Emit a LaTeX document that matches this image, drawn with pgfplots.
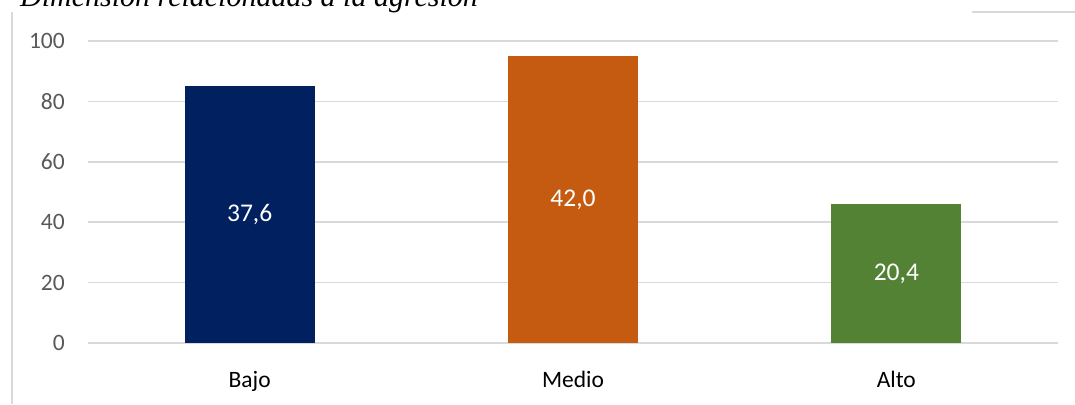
\documentclass[border=0pt]{standalone}
\usepackage{pgfplots}
\pgfplotsset{compat=1.18}
\usepackage{fontspec}
\setmainfont{Carlito}
\newfontfamily\titlefont{Liberation Serif}
\definecolor{cBajo}{HTML}{002060}
\definecolor{cMedio}{HTML}{C55A11}
\definecolor{cAlto}{HTML}{548235}
\definecolor{gridc}{HTML}{D9D9D9}
\definecolor{tickc}{HTML}{595959}
\begin{document}
\begin{tikzpicture}[x=1pt,y=1pt]
\path[use as bounding box] (0,0) rectangle (1075,404);
\draw[gridc, line width=1.3pt] (12,0) -- (12,392);
\draw[gridc, line width=1.3pt] (972,392) -- (1075,392);
\node[anchor=base west, inner sep=0pt, font=\titlefont\itshape\fontsize{30}{34}\selectfont] at (20,397) {Dimensión relacionadas a la agresión};
\begin{axis}[
  at={(88pt,61pt)}, anchor=south west,
  scale only axis, width=970pt, height=302pt,
  xmin=-0.5, xmax=2.5, ymin=0, ymax=100,
  axis line style={draw=none},
  major tick length=0pt,
  ytick={0,20,40,60,80,100},
  xtick={0,1,2}, xticklabels={Bajo,Medio,Alto},
  ymajorgrids, grid style={gridc, line width=1.6pt},
  yticklabel style={font=\fontsize{23.5}{27}\selectfont, text=tickc, anchor=east, inner sep=0pt, xshift=-23pt},
  xticklabel style={font=\fontsize{23.5}{27}\selectfont, text=black, anchor=base, inner sep=0pt, yshift=-44pt},
  /pgf/number format/assume math mode=true,
  clip=false,
]
\addplot[ybar, bar width=130pt, fill=cBajo, draw=none] coordinates {(0,85)};
\addplot[ybar, bar width=130pt, fill=cMedio, draw=none] coordinates {(1,95)};
\addplot[ybar, bar width=130pt, fill=cAlto, draw=none] coordinates {(2,46)};
\addplot[draw=none, mark=none, point meta=explicit symbolic,
  nodes near coords={\pgfplotspointmeta},
  every node near coord/.style={anchor=center, text=white, font=\fontsize{25.5}{29}\selectfont, inner sep=0pt}]
  coordinates {(0,42.5) [37,6] (1,47.5) [42,0] (2,23) [20,4]};
\end{axis}
\end{tikzpicture}
\end{document}
